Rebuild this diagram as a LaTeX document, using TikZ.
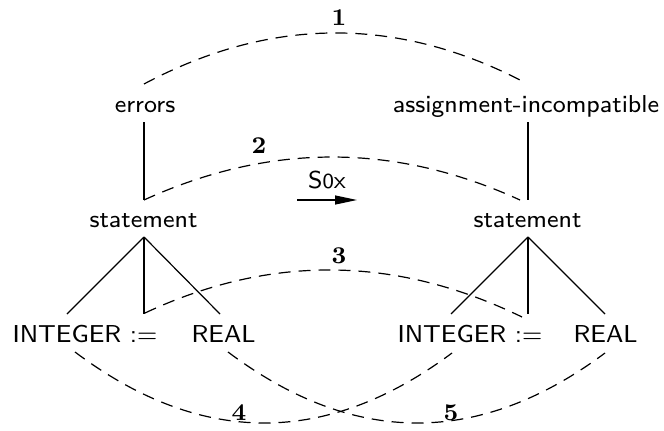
\documentclass[tikz,border=0pt]{standalone}
\usetikzlibrary{arrows.meta}
\begin{document}
\begin{tikzpicture}[x=1pt,y=-1pt,
  lbl/.style={font=\fontsize{8}{10}\selectfont\sffamily, scale=3.06, inner sep=0pt, anchor=base},
  num/.style={font=\fontsize{8}{10}\selectfont\bfseries\rmfamily, scale=3.0, inner sep=0pt, anchor=base},
  tree/.style={line width=1.2pt},
  link/.style={line width=1.2pt, dash pattern=on 12pt off 8pt}]
\useasboundingbox (0,0) rectangle (664,431);
% text nodes
\node[lbl] (err) at (145,112) {errors};
\node[lbl] (asg) at (526,112) {assignment-incompatible};
\node[lbl] (stL) at (143.5,227) {statement};
\node[lbl] (stR) at (527.5,227) {statement};
\node[lbl,anchor=base west] (intL) at (12,342) {INTEGER :=};
\node[lbl,anchor=base west] (realL) at (191,342) {REAL};
\node[lbl,anchor=base west] (intR) at (397,342) {INTEGER :=};
\node[lbl,anchor=base west] (realR) at (573,342) {REAL};
\node[lbl] (sox) at (327,188) {S{\fontsize{7}{9}\selectfont 0}x};
% labels
\node[num] (n1) at (339,25) {1};
\node[num] (n2) at (259,153) {2};
\node[num] (n3) at (339,263) {3};
\node[num] (n4) at (239,420) {4};
\node[num] (n5) at (451,420) {5};
% attachment points
\coordinate (eB) at (144,122);
\coordinate (eT) at (144,84);
\coordinate (aB) at (528,122);
\coordinate (aT) at (520,80);
\coordinate (sLt) at (144,200);
\coordinate (sRt) at (528,200);
\coordinate (sRl) at (520,200);
\coordinate (sLb) at (144,237);
\coordinate (sRb) at (528,237);
\coordinate (iL) at (67,314);
\coordinate (cL) at (144,314);
\coordinate (rL) at (220,314);
\coordinate (iR) at (451,314);
\coordinate (cR) at (528,314);
\coordinate (rR) at (605,314);
\coordinate (cLd) at (145,313);
\coordinate (cRd) at (522,317);
\coordinate (iLb) at (75,352);
\coordinate (iRb) at (452,353);
\coordinate (rLb) at (228,352);
\coordinate (rRb) at (605,353);
\coordinate (arS) at (297,200);
\coordinate (arE) at (357,200);
% tree lines
\draw[tree] (eB) -- (sLt);
\draw[tree] (aB) -- (sRt);
\draw[tree] (sLb) -- (iL);
\draw[tree] (sLb) -- (cL);
\draw[tree] (sLb) -- (rL);
\draw[tree] (sRb) -- (iR);
\draw[tree] (sRb) -- (cR);
\draw[tree] (sRb) -- (rR);
% arrow
\draw[line width=1.2pt,-{Triangle[length=22pt,width=9pt]}] (arS) -- (arE);
% dashed links
\draw[link] (eT) .. controls (269.3,17.3) and (394.7,16) .. (aT);
\draw[link] (sLt) .. controls (269.3,142.7) and (394.7,142.7) .. (sRl);
\draw[link] (cLd) .. controls (270.3,254.3) and (396,255.7) .. (cRd);
\draw[link] (iLb) .. controls (200.7,446.3) and (326.3,446.7) .. (iRb);
\draw[link] (rLb) .. controls (353.7,446.3) and (479.3,446.7) .. (rRb);
\end{tikzpicture}
\end{document}
